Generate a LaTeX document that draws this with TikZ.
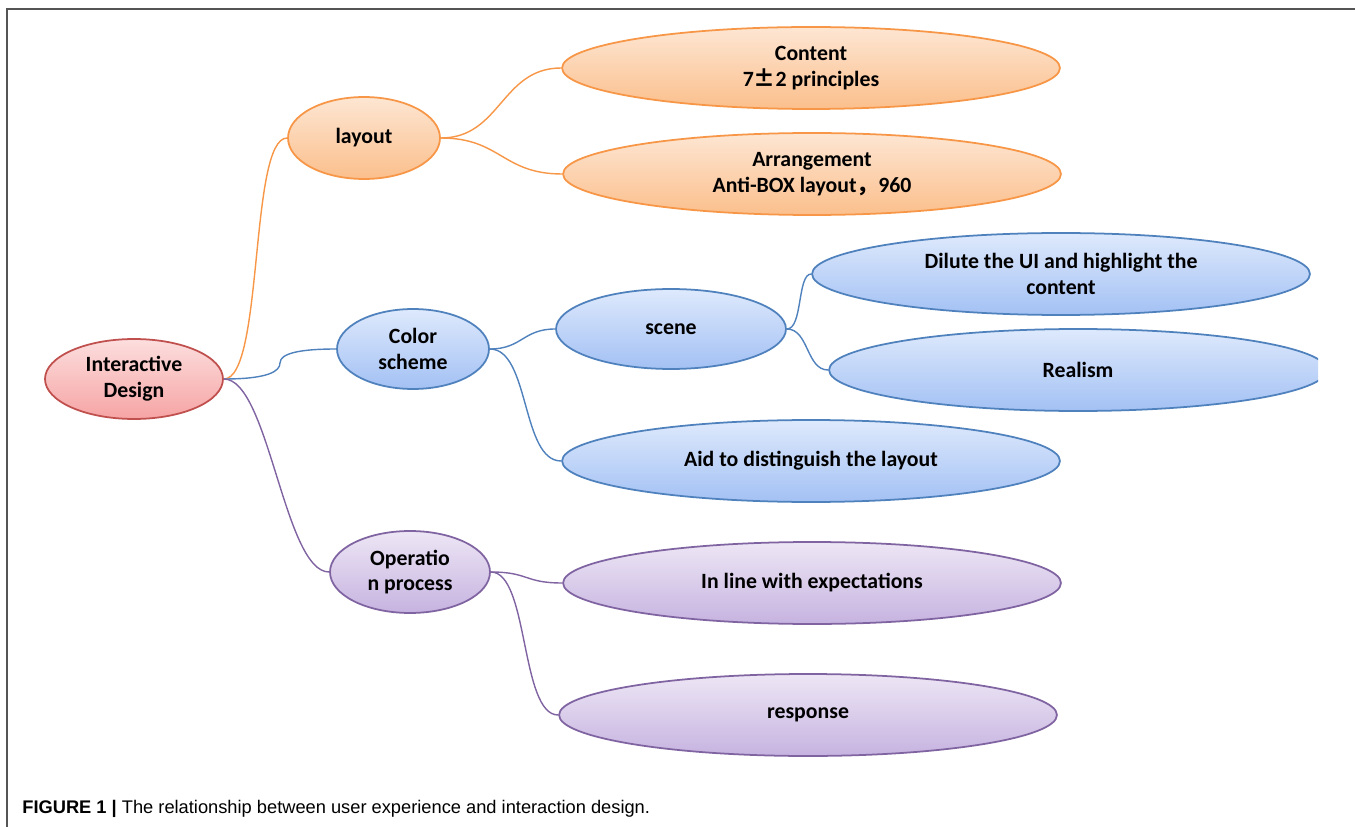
\documentclass[tikz,border=0pt]{standalone}
\usepackage{fontspec}
\setmainfont{Carlito}
\newfontfamily\cjk{Noto Sans CJK SC}
\newfontfamily\capfont{Liberation Sans}
\usetikzlibrary{shapes.geometric}
\definecolor{orS}{HTML}{F79646}
\definecolor{orT}{HTML}{FDE6D3}
\definecolor{orB}{HTML}{FBBF8C}
\definecolor{blS}{HTML}{4F81BD}
\definecolor{blT}{HTML}{DEE9FC}
\definecolor{blB}{HTML}{A3C1F4}
\definecolor{rdS}{HTML}{C0504D}
\definecolor{rdT}{HTML}{FCDEDE}
\definecolor{rdB}{HTML}{F6A4A4}
\definecolor{puS}{HTML}{8064A2}
\definecolor{puT}{HTML}{EDE6F5}
\definecolor{puB}{HTML}{C6B3E0}
\definecolor{frameC}{HTML}{555555}
\tikzset{
  bub/.style={ellipse, inner sep=0pt, align=center, font=\fontsize{12.4pt}{14.6pt}\selectfont\bfseries, line width=1pt, text=black},
  orn/.style={bub, draw=orS, top color=orT, bottom color=orB},
  bln/.style={bub, draw=blS, top color=blT, bottom color=blB},
  rdn/.style={bub, draw=rdS, top color=rdT, bottom color=rdB},
  pun/.style={bub, draw=puS, top color=puT, bottom color=puB},
  wide/.style={minimum width=9.96cm, minimum height=1.64cm},
  link/.style={line width=0.8pt},
}
\begin{document}
\begin{tikzpicture}[x=0.02cm, y=-0.02cm]
\useasboundingbox (0,0) rectangle (1355,827);
\draw[frameC, line width=1.1pt] (7,827) -- (7,9) -- (1355,9);

% first level
\node[rdn, minimum width=3.56cm, minimum height=1.6cm] (root) at (134,379) {Interactive\\Design};
\node[orn, minimum width=3.04cm, minimum height=1.64cm] (layout) at (364,138) {layout};
\node[bln, minimum width=3.04cm, minimum height=1.6cm] (color) at (413,349) {Color\\scheme};
\node[pun, minimum width=3.2cm, minimum height=1.64cm] (oper) at (410,572) {Operatio\\n process};

% second level
\node[orn, wide] (content) at (811,68) {Content\\7{\cjk ±}2 principles};
\node[orn, wide] (arrange) at (812,174) {Arrangement\\Anti-BOX layout{\cjk ，}960};
\node[bln, minimum width=4.6cm, minimum height=1.6cm] (scene) at (671,329) {scene};
\node[bln, wide] (aid) at (811,461) {Aid to distinguish the layout};
\node[pun, wide] (inline) at (812,583) {In line with expectations};
\node[pun, wide] (resp) at (808,715) {response};

% third level
\node[bln, wide] (dilute) at (1061,274) {Dilute the UI and highlight the\\content};
\begin{scope}
\clip (0,0) rectangle (1318,827);
\node[bln, wide] (realism) at (1078,370) {Realism};
\end{scope}

% connectors
\draw[link, orS] (root.east) .. controls +(40,0) and +(-38,0) .. (layout.west);
\draw[link, blS] (root.east) .. controls +(45,0) and +(0,8) .. (280,363)
   .. controls +(0,-10) and +(-35,0) .. (color.west);
\draw[link, puS] (root.east) .. controls +(45,0) and +(-45,0) .. (oper.west);

\draw[link, orS] (layout.east) .. controls +(60,0) and +(-60,0) .. (content.west);
\draw[link, orS] (layout.east) .. controls +(60,0) and +(-60,0) .. (arrange.west);

\draw[link, blS] (color.east) .. controls +(32,0) and +(-32,0) .. (scene.west);
\draw[link, blS] (color.east) .. controls +(40,0) and +(-40,0) .. (aid.west);

\draw[link, blS] (scene.east) .. controls +(16,0) and +(-14,0) .. (dilute.west);
\draw[link, blS] (scene.east) .. controls +(22,0) and +(-22,0) .. (realism.west);

\draw[link, puS] (oper.east) .. controls +(38,0) and +(-38,0) .. (inline.west);
\draw[link, puS] (oper.east) .. controls +(38,0) and +(-38,0) .. (resp.west);

% caption
\node[anchor=base west, inner sep=0pt, font=\capfont\fontsize{10.4pt}{12pt}\selectfont] (cap) at (22,813)
  {\textbf{FIGURE 1 |} The relationship between user experience and interaction design.};
\end{tikzpicture}
\end{document}
